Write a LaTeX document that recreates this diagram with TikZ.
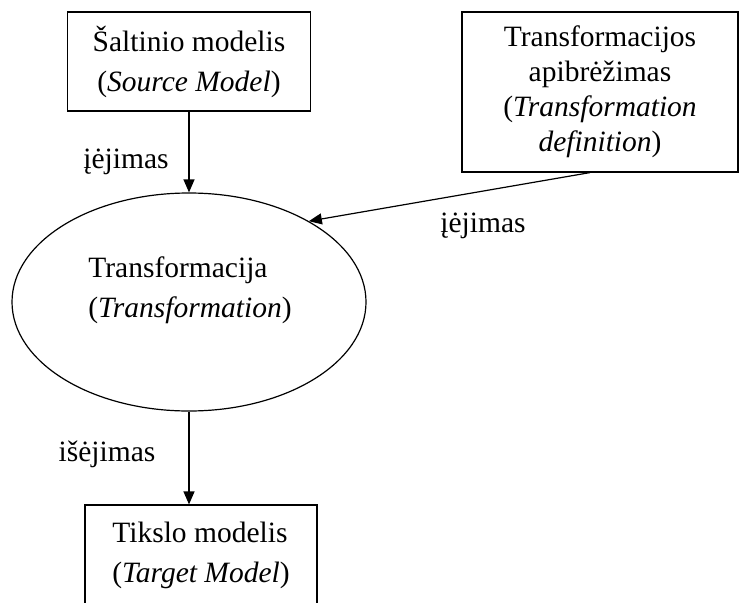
\documentclass[tikz,border=0pt]{standalone}
\usepackage{fontspec}
\setmainfont{Liberation Serif}
\usetikzlibrary{arrows.meta,shapes.geometric,calc}
\begin{document}
\begin{tikzpicture}[x=1pt,y=1pt,
  every node/.style={font=\fontsize{29.5}{40}\selectfont},
  box/.style={draw,line width=1.2pt,inner sep=0pt,align=center},
  flow/.style={draw,line width=1.2pt,-{Triangle[length=13pt,width=11pt]}},
  lbl/.style={inner sep=0pt,anchor=base}]
\useasboundingbox (0,0) rectangle (741,-602);

% models and the transformation definition
\node[box,minimum width=243,minimum height=99] (src) at (189,-61.5)
  {Šaltinio modelis\\(\textit{Source Model})};
\node[box,minimum width=276,minimum height=160,
  font=\fontsize{29.5}{35}\selectfont] (tdef) at (600,-92)
  {Transformacijos\\apibrėžimas\\(\textit{Transformation}\\\textit{definition})};
\node[draw,ellipse,line width=1.2pt,minimum width=354,minimum height=218,
  inner sep=0pt] (tr) at (189,-302) {};
\node[align=left,inner sep=0pt] (trtext) at (190,-290)
  {Transformacija\\(\textit{Transformation})};
\node[box,align=left,minimum width=232,minimum height=100] (tgt) at (201,-555)
  {Tikslo modelis\\(\textit{Target Model})};

% connectors
\coordinate (tdefout) at ($(tdef.south)+(-10,0)$);
\draw[flow] (src.south) -- (tr.north);
\draw[flow] (tdefout) -- (tr.34.6);
\draw[flow] (tr.south) -- (tr.south |- tgt.north);

% connector labels
\node[lbl] (in1) at (126,-168) {įėjimas};
\node[lbl] (in2) at (483,-232) {įėjimas};
\node[lbl] (out) at (107,-461) {išėjimas};
\end{tikzpicture}
\end{document}
